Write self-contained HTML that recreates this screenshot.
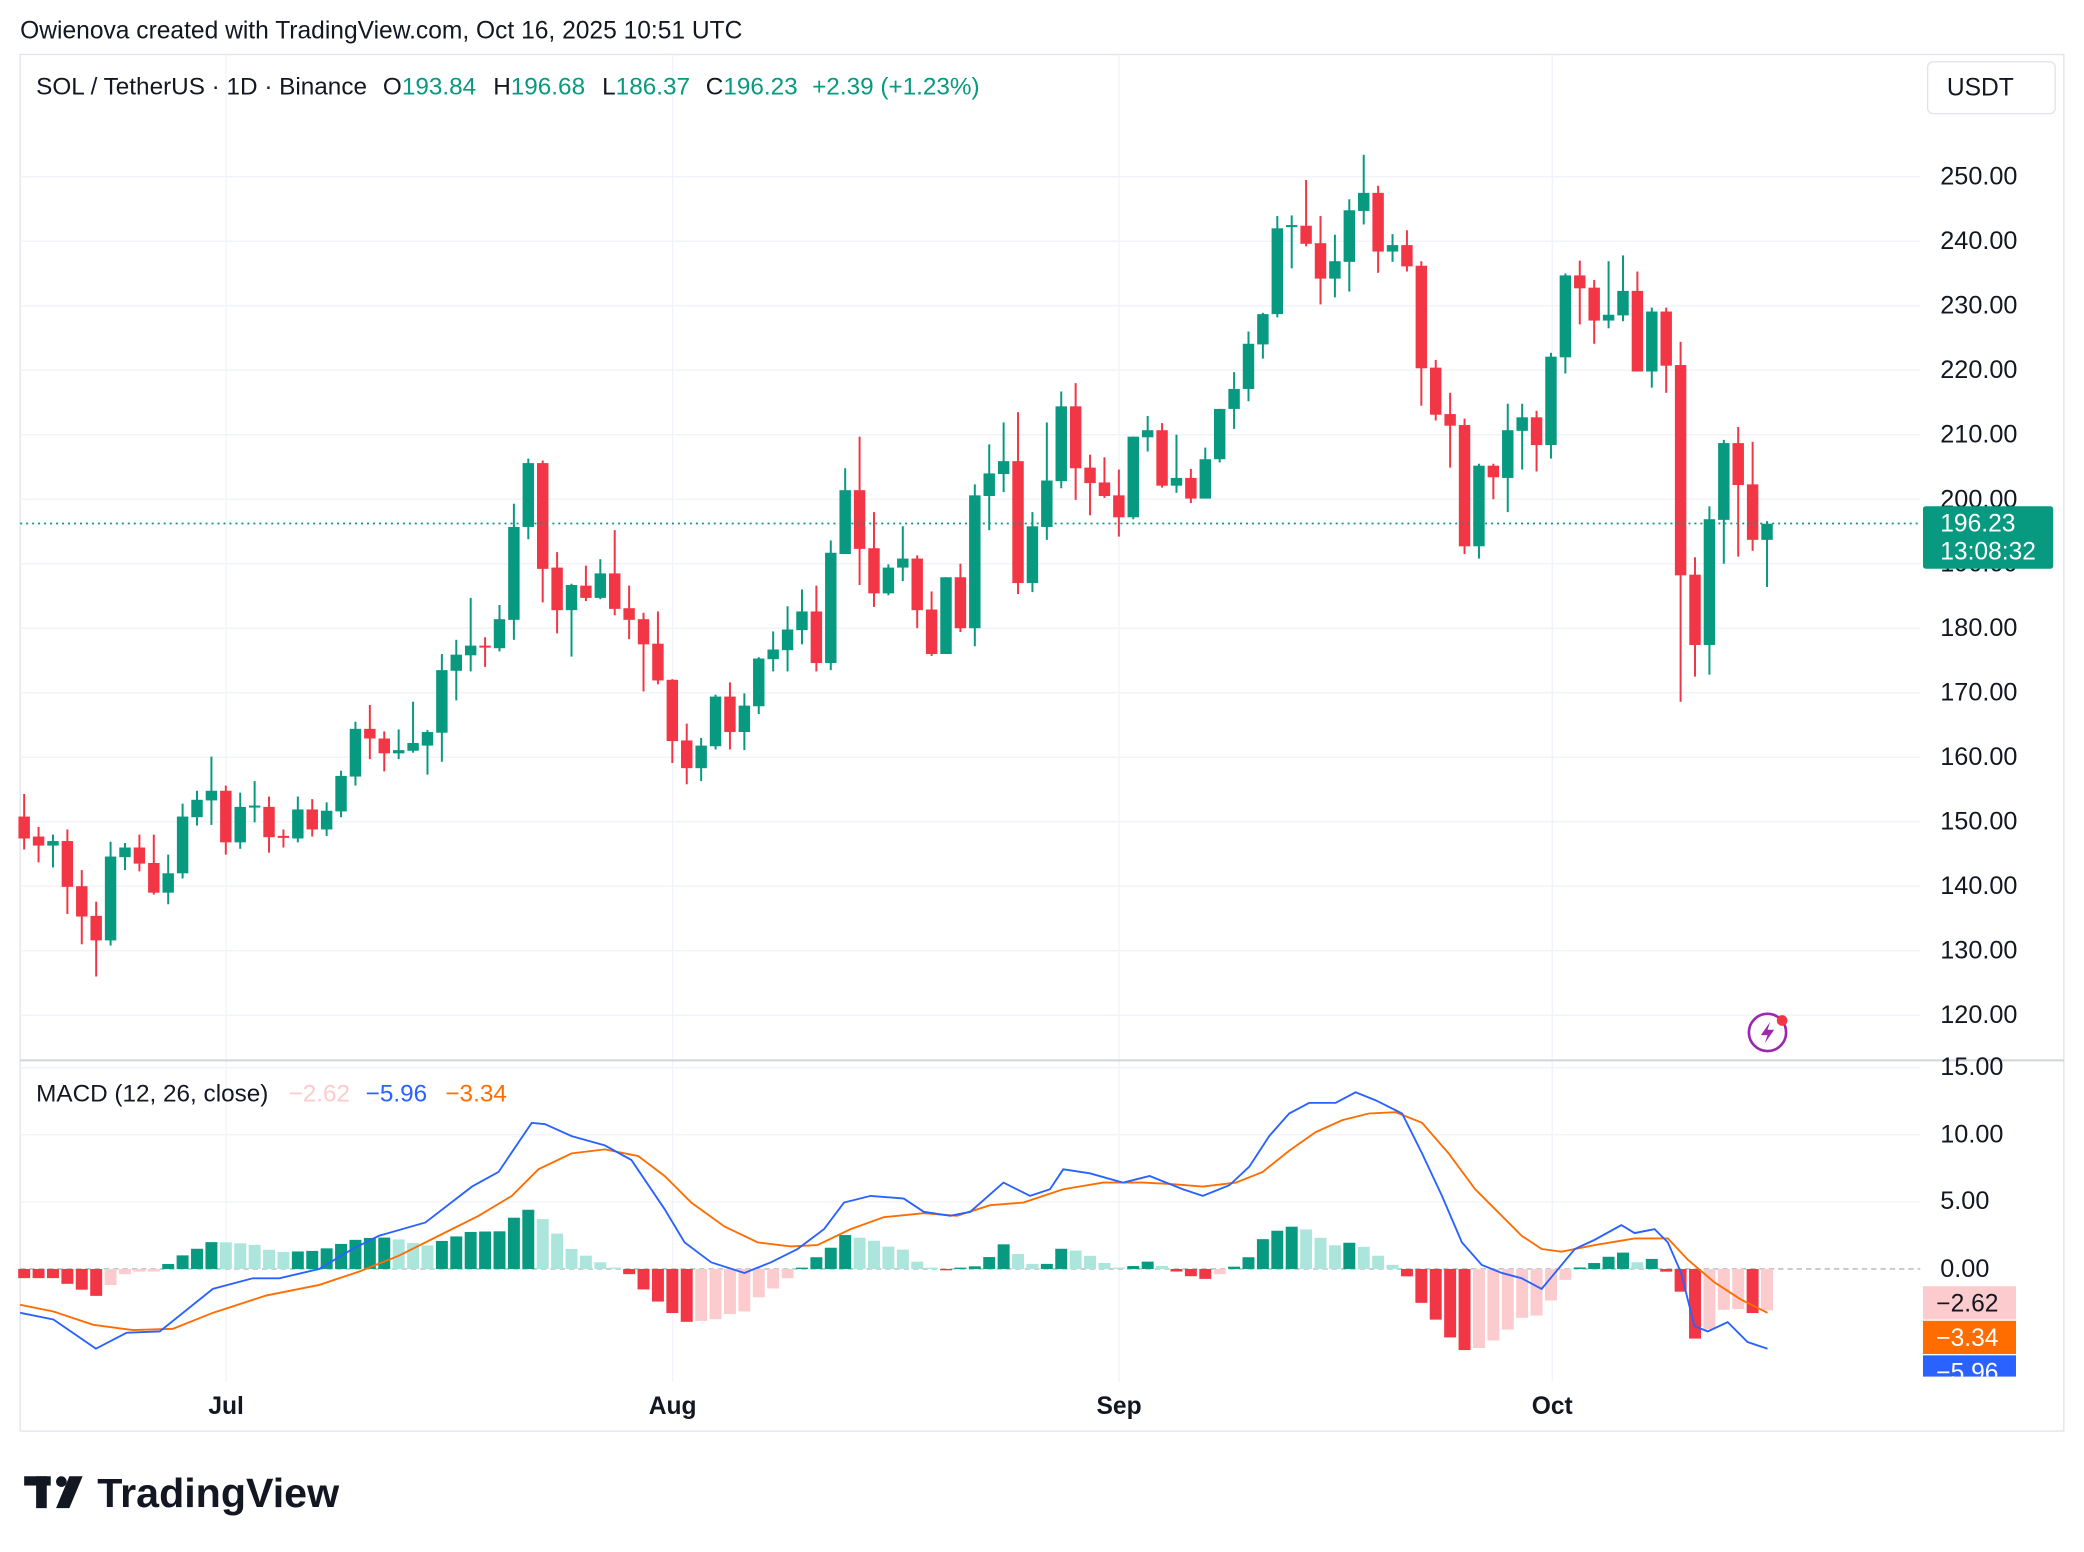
<!DOCTYPE html>
<html><head><meta charset="utf-8">
<style>
html,body{margin:0;padding:0;background:#fff;}
svg{display:block;font-family:"Liberation Sans",Arial,sans-serif;}
</style></head>
<body>
<svg id="s" width="2084" height="1552" viewBox="0 0 1568 1168" xmlns="http://www.w3.org/2000/svg">
<rect width="1568" height="1168" fill="#fff"/>
<text x="15" y="29" font-size="18.5" fill="#131722">Owienova created with TradingView.com, Oct 16, 2025 10:51 UTC</text>
<rect x="15" y="41" width="1538" height="1036" fill="none" stroke="#e0e3eb" stroke-width="1"/>
<g id="grid"></g>
<g id="candles"></g>
<g id="macd"></g>
<line x1="15" y1="798" x2="1553" y2="798" stroke="#d1d4dc" stroke-width="1.5"/>
<line x1="15" y1="394" x2="1445" y2="394" stroke="#089981" stroke-width="1.3" stroke-dasharray="1.5,3"/>
<g font-size="18.3" fill="#131722">
<text x="27" y="71">SOL / TetherUS · 1D · Binance</text>
<text x="288" y="71">O<tspan fill="#089981">193.84</tspan></text>
<text x="371" y="71">H<tspan fill="#089981">196.68</tspan></text>
<text x="453" y="71">L<tspan fill="#089981">186.37</tspan></text>
<text x="531" y="71">C<tspan fill="#089981">196.23</tspan></text>
<text x="611" y="71" fill="#089981">+2.39 (+1.23%)</text>
</g>
<rect x="1450.5" y="46.5" width="96" height="39" rx="4" fill="#fff" stroke="#e0e3eb"/>
<text x="1465" y="72" font-size="18.5" fill="#131722">USDT</text>
<g id="paxis" font-size="19" fill="#131722"></g>
<rect x="1447" y="381" width="98" height="47" rx="2" fill="#089981"/>
<text x="1460" y="400" font-size="18.5" fill="#fff">196.23</text>
<text x="1460" y="421" font-size="18.5" fill="#fff">13:08:32</text>
<g font-size="18.3">
<text x="27" y="829" fill="#131722">MACD (12, 26, close)</text>
<text x="217" y="829" fill="#fccbcd">−2.62</text>
<text x="275" y="829" fill="#2962ff">−5.96</text>
<text x="335" y="829" fill="#ff6d00">−3.34</text>
</g>
<rect x="1447" y="968" width="70" height="25" fill="#fccbcd"/>
<text x="1457" y="987" font-size="18.5" fill="#131722">−2.62</text>
<rect x="1447" y="994" width="70" height="25" fill="#ff6d00"/>
<text x="1457" y="1013" font-size="18.5" fill="#fff">−3.34</text>
<rect x="1447" y="1020" width="70" height="16" fill="#2962ff"/>
<svg x="1447" y="1020" width="70" height="16"><text x="10" y="19" font-size="18.5" fill="#fff">−5.96</text></svg>
<g font-size="18.5" font-weight="bold" fill="#131722" text-anchor="middle">
<text x="170" y="1064">Jul</text><text x="506" y="1064">Aug</text><text x="842" y="1064">Sep</text><text x="1168" y="1064">Oct</text>
</g>
<g transform="translate(1330,777)">
<circle r="14" fill="#fff" stroke="#9c27b0" stroke-width="2"/>
<path d="M2,-8 L-5,2 L0,2 L-2,8 L5,-2 L0,-2 Z" fill="#9c27b0"/>
<circle cx="11" cy="-9" r="4" fill="#f23645"/>
</g>
<g fill="#131722">
<rect x="18" y="1111" width="20" height="7"/>
<rect x="27" y="1111" width="8" height="24"/>
<circle cx="46" cy="1115" r="4"/>
<path d="M52,1111 L62,1111 L52,1135 L42,1135 Z"/>
<text x="73" y="1134" font-size="31" font-weight="bold">TradingView</text>
</g>
</svg>
<script>
var NS="http://www.w3.org/2000/svg";
function el(p,t,a){var e=document.createElementNS(NS,t);for(var k in a)e.setAttribute(k,a[k]);p.appendChild(e);return e;}
function Y(p){return 133+(250-p)*4.854;}
var g=document.getElementById('grid');
for(var p=120;p<=250;p+=10){el(g,'line',{x1:15,x2:1445,y1:Y(p),y2:Y(p),stroke:'#f0f3fa','stroke-width':1});}
[170,506,842,1168].forEach(function(x){el(g,'line',{x1:x,x2:x,y1:41,y2:1040,stroke:'#f0f3fa','stroke-width':1});});
[15,10,5].forEach(function(v){var y=955-v*10.1;el(g,'line',{x1:15,x2:1445,y1:y,y2:y,stroke:'#f0f3fa','stroke-width':1});});
el(g,'line',{x1:15,x2:1445,y1:955,y2:955,stroke:'#b2b5be','stroke-width':1,'stroke-dasharray':'4,3'});
var pa=document.getElementById('paxis');
for(var p=120;p<=250;p+=10){if(p==200||p==190)continue;var t=el(pa,'text',{x:1460,y:Y(p)+6});t.textContent=p.toFixed(2);}
var t=el(pa,'text',{x:1460,y:382});t.textContent="200.00";
var t=el(pa,'text',{x:1460,y:430});t.textContent="190.00";
[[15,803],[10,854],[5,904],[0,955]].forEach(function(a){var t=el(pa,'text',{x:1460,y:a[1]+6});t.textContent=a[0].toFixed(2);});
var D=[[150.8,147.4,154.3,145.7],[147.7,146.3,149.2,143.7],[146.3,147.0,148,142.9],[147,139.9,148.8,135.7],[140,135.3,142.5,131],[135.4,131.6,137.6,126],[131.6,144.6,146.9,130.8],[144.5,146,146.7,142.5],[146,143.5,148,142.3],[143.6,139,148,138.7],
[139,142,144.9,137.2],[142,150.8,152.8,141.2],[150.7,153.4,154.8,149.4],[153.3,154.8,160.1,149.5],[154.8,146.8,155.6,144.9],[146.8,152.3,154.5,145.8],[152.3,152.5,156.3,149.9],[152.3,147.6,153.9,145.2],[147.8,147.6,148.8,146],[147.4,151.9,153.9,146.8],
[151.9,148.8,153.5,147.7],[148.8,151.7,153,147.8],[151.6,157.1,157.9,150.7],[157,164.4,165.5,155.6],[164.4,162.9,168.1,159.7],[162.9,160.6,164,157.8],[160.6,161.1,164.3,159.7],[161,162.2,168.6,160.7],[161.8,163.9,164.2,157.3],[163.8,173.5,176,159.3],
[173.4,175.9,178.2,168.8],[175.8,177.3,184.7,173.3],[177.3,177,178.6,174],[176.9,181.4,183.6,176.4],[181.3,195.7,199.3,178.2],[195.7,205.6,206.3,193.8],[205.6,189.2,206,184],[189.4,182.8,191.8,179.2],[182.8,186.7,186.9,175.6],[186.6,184.7,189.7,184.2],
[184.7,188.5,190.7,184.5],[188.5,183,195.2,182],[183.1,181.3,186.6,178.3],[181.4,177.5,182.4,170.2],[177.6,171.9,182.6,171.3],[172,162.5,172.1,159.1],[162.6,158.3,165.2,155.8],[158.3,161.8,163,156.3],[161.7,169.4,169.7,161.2],[169.4,163.9,171.6,161.2],
[163.9,168,169.9,161.1],[167.9,175.3,175.5,166.7],[175.2,176.7,179.5,173.3],[176.6,179.8,183.4,173.3],[179.7,182.6,186,177.5],[182.6,174.6,186.6,173.3],[174.6,191.7,193.6,173.5],[191.5,201.4,204.8,191.5],[201.4,192.3,209.7,186.7],[192.4,185.4,198,183.3],
[185.4,189.4,189.9,185.1],[189.4,190.8,195.8,187.3],[190.8,182.8,191.3,180],[182.9,176,185.7,175.7],[176,187.9,187.9,176],[187.9,180,190,179.4],[180,200.6,202.3,177.2],[200.5,204,208.5,195.2],[203.9,205.9,211.9,201.1],[205.9,187,213.5,185.3],
[187,195.8,198,185.6],[195.7,202.9,211.9,193.7],[202.8,214.4,216.7,201.7],[214.4,204.8,218,199.9],[204.9,202.5,206.9,197.5],[202.6,200.5,206.5,200.2],[200.6,197.2,204.6,194.2],[197.2,209.7,209.7,196.9],[209.6,210.7,212.9,207.4],[210.7,202.1,211.8,201.8],
[202.1,203.3,210,201],[203.3,200.1,204.7,199.4],[200.1,206.2,208,200.1],[206.2,214,214,205.7],[214,217.1,219.7,210.9],[217.1,224.1,226,215.2],[224,228.7,228.9,221.8],[228.7,242,243.9,228.2],[242.3,242.5,244,235.8],[242.4,239.6,249.5,239.2],
[239.7,234.2,243.9,230.2],[234.2,236.9,241,231.3],[236.8,244.8,246.5,232.2],[244.7,247.5,253.4,242.6],[247.5,238.4,248.6,235.1],[238.4,239.4,241.1,236.8],[239.4,236.1,241.7,235.3],[236.2,220.3,236.9,214.5],[220.4,213.1,221.6,212.2],[213.2,211.4,216.5,204.9],
[211.5,192.7,212.5,191.5],[192.7,205.2,205.5,190.8],[205.2,203.4,205.5,200],[203.3,210.7,214.8,198],[210.6,212.7,214.8,204.6],[212.7,208.4,213.7,204.3],[208.4,222.1,222.7,206.3],[222,234.7,235,219.5],[234.7,232.7,237,227.1],[232.8,227.7,234,224.1],
[227.7,228.6,236.9,226.5],[228.5,232.3,237.8,227.6],[232.3,219.8,235.3,219.8],[219.8,229.1,229.7,217.3],[229.1,220.7,229.7,216.5],[220.8,188.2,224.4,168.6],[188.3,177.4,191,172.5],[177.4,196.9,198.9,172.8],[196.8,208.7,209.2,190],[208.7,202.2,211.2,191.1],
[202.3,193.7,208.9,192],[193.7,196.2,196.6,186.4]];
var cg=document.getElementById('candles');
D.forEach(function(c,i){var x=18+i*10.84;var up=c[1]>=c[0];var col=up?'#089981':'#f23645';
el(cg,'rect',{x:x-0.75,y:Y(c[2]),width:1.5,height:Y(c[3])-Y(c[2]),fill:col});
var t=Y(Math.max(c[0],c[1])),b=Y(Math.min(c[0],c[1]));if(b-t<1.5){b=t+1.5;}
el(cg,'rect',{x:x-4.3,y:t,width:8.6,height:b-t,fill:col});});
var B=[[15,988],[40,993],[72,1015],[95,1003],[120,1002],[160,970],[190,962],[210,962],[240,955],[265,940],[285,930],[320,920],[355,893],[375,882],[400,845],[410,846],[430,855],[455,862],[475,873],[500,910],[515,935],[535,950],[560,958],[580,950],[600,940],[620,925],[635,905],[655,900],[680,902],[695,912],[715,915],[730,912],[755,890],[775,900],[790,895],[800,880],[820,883],[845,890],[865,885],[890,895],[905,900],[925,892],[940,878],[955,855],[970,838],[985,830],[1005,830],[1020,822],[1035,828],[1055,838],[1070,868],[1085,900],[1100,935],[1115,952],[1130,958],[1145,962],[1160,970],[1170,958],[1185,940],[1200,933],[1220,922],[1230,928],[1245,925],[1255,935],[1265,958],[1275,998],[1285,1002],[1300,995],[1315,1010],[1330,1015]];
var O=[[15,982],[40,987],[70,997],[100,1001],[130,1000],[160,988],[200,975],[240,967],[270,957],[300,945],[330,930],[360,915],[385,900],[405,880],[430,868],[455,865],[480,870],[500,885],[520,905],[545,923],[570,935],[595,938],[615,937],[640,925],[665,916],[695,913],[720,915],[745,907],[770,905],[800,895],[830,890],[860,890],[880,891],[905,893],[930,890],[950,882],[970,866],[990,852],[1010,843],[1030,838],[1050,837],[1070,845],[1090,868],[1110,895],[1125,910],[1145,930],[1160,940],[1175,942],[1200,937],[1230,932],[1255,932],[1270,948],[1290,965],[1310,978],[1330,988]];
function interp(a,x){for(var i=1;i<a.length;i++){if(x<=a[i][0]){var f=(x-a[i-1][0])/(a[i][0]-a[i-1][0]);return a[i-1][1]+f*(a[i][1]-a[i-1][1]);}}return a[a.length-1][1];}
var mg=document.getElementById('macd');var prev=0;
for(var i=0;i<D.length;i++){var x=18+i*10.84;var h=(interp(O,x)-interp(B,x))*1.15;var col;
if(h>=0)col=(h>=prev)?'#089981':'#ace5dc';else col=(h<=prev)?'#f23645':'#fccbcd';prev=h;
var ht=Math.max(Math.abs(h),1);el(mg,'rect',{x:x-4.5,y:h>=0?955-ht:955,width:9,height:ht,fill:col});}
function pl(a,c){el(mg,'polyline',{points:a.map(function(p){return p[0]+','+p[1];}).join(' '),fill:'none',stroke:c,'stroke-width':1.4});}
pl(O,'#ff6d00');pl(B,'#2962ff');
</script>
</body></html>
